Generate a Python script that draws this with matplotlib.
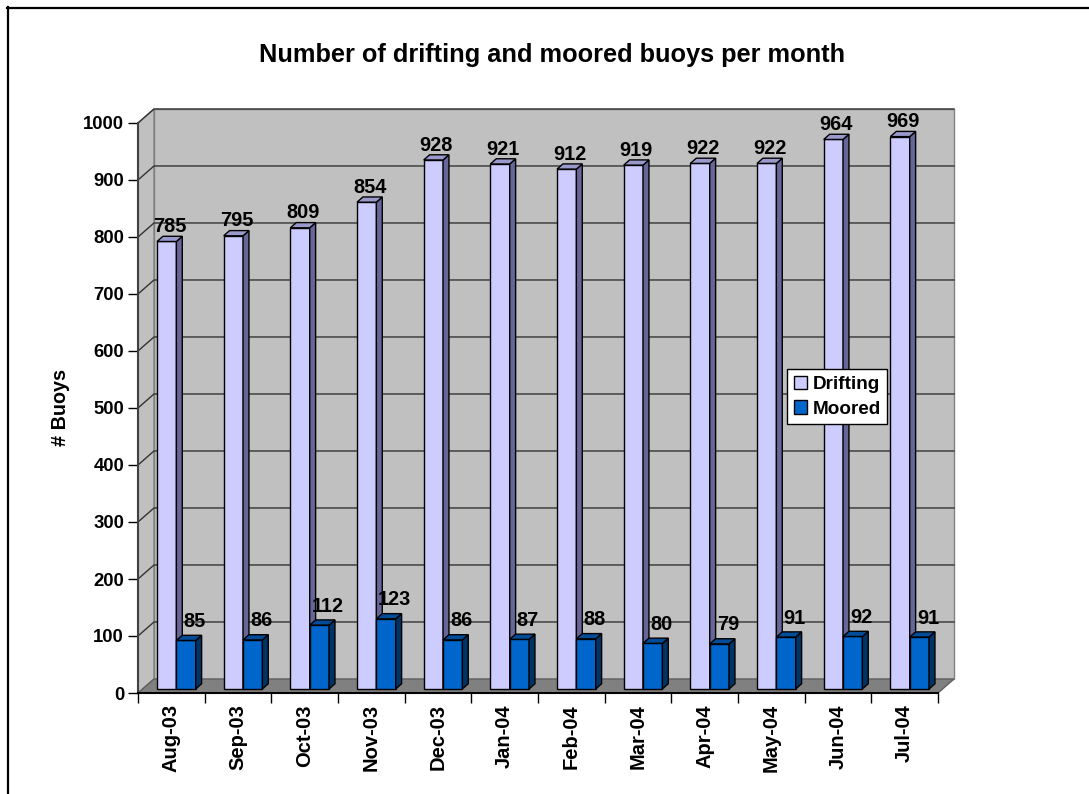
import numpy as np
import matplotlib
matplotlib.use("Agg")
import matplotlib.pyplot as plt
from matplotlib.patches import Polygon, Patch
from matplotlib.lines import Line2D

plt.rcParams['font.family'] = ['Liberation Sans', 'DejaVu Sans']
plt.rcParams['font.weight'] = 'bold'

months = ["Aug-03", "Sep-03", "Oct-03", "Nov-03", "Dec-03", "Jan-04",
          "Feb-04", "Mar-04", "Apr-04", "May-04", "Jun-04", "Jul-04"]
drifting = [785, 795, 809, 854, 928, 921, 912, 919, 922, 922, 964, 969]
moored = [85, 86, 112, 123, 86, 87, 88, 80, 79, 91, 92, 91]
yticks = list(range(0, 1001, 100))

# pseudo 3d depth (data units) and bar placement
n = len(months)
DX, DY = 0.24, 24.6
T0, T1 = 0.29, 0.66
W = 0.29
wall = '#C0C0C0'
grid_c = '#333333'

fig = plt.figure(figsize=(10.89, 7.94), dpi=100)
ax = fig.add_axes([138/1089, 101/794, 800/1089, 570/794])
ax.set_xlim(0, n)
ax.set_ylim(0, 1000)
ax.patch.set_visible(False)

# walls and floor
ax.add_patch(Polygon([(DX, DY), (n+DX, DY), (n+DX, 1000+DY), (DX, 1000+DY)],
                     closed=True, fc=wall, ec='#808080', lw=1, clip_on=False, zorder=0))
ax.add_patch(Polygon([(0, 0), (DX, DY), (DX, 1000+DY), (0, 1000)],
                     closed=True, fc=wall, ec='#808080', lw=1, clip_on=False, zorder=0))
ax.add_patch(Polygon([(0, 0), (n, 0), (n+DX, DY), (DX, DY)],
                     closed=True, fc='#808080', ec='#606060', lw=1, clip_on=False, zorder=0.5))
for v in yticks[1:]:
    ax.plot([0, DX, n+DX], [v, v+DY, v+DY], color=grid_c, lw=1, clip_on=False, zorder=0.2)


def bars3d(xs, vals, front, side, top):
    ax.bar(xs + T0*DX, vals, width=W, bottom=T0*DY, align='edge',
           color=front, edgecolor='black', lw=1, zorder=3, clip_on=False)
    for x, v in zip(xs, vals):
        xr = x + W
        ax.add_patch(Polygon([(xr+T0*DX, T0*DY), (xr+T1*DX, T1*DY),
                              (xr+T1*DX, v+T1*DY), (xr+T0*DX, v+T0*DY)],
                             closed=True, fc=side, ec='black', lw=1, zorder=3, clip_on=False))
        ax.add_patch(Polygon([(x+T0*DX, v+T0*DY), (xr+T0*DX, v+T0*DY),
                              (xr+T1*DX, v+T1*DY), (x+T1*DX, v+T1*DY)],
                             closed=True, fc=top, ec='black', lw=1, zorder=3, clip_on=False))


idx = np.arange(n)
xd = idx + 0.216
xm = xd + W
bars3d(xd, drifting, '#CCCCFF', '#666699', '#9999CC')
bars3d(xm, moored, '#0066CC', '#003366', '#004C99')

mid = (T0 + T1) / 2
for x, v in zip(xd, drifting):
    ax.annotate(str(v), (x + W/2 + mid*DX, v + T1*DY), xytext=(0, 3),
                textcoords='offset points', ha='center', va='baseline',
                fontsize=14.4, fontweight='bold', zorder=5, annotation_clip=False)
for x, v in zip(xm, moored):
    ax.annotate(str(v), (x + W/2 + mid*DX, v + T1*DY), xytext=(4, 6),
                textcoords='offset points', ha='center', va='baseline',
                fontsize=14.4, fontweight='bold', zorder=5, annotation_clip=False)

# axes
for s in ['top', 'right']:
    ax.spines[s].set_visible(False)
ax.spines['left'].set_color('#404040')
ax.spines['left'].set_linewidth(1.5)
ax.spines['bottom'].set_color('black')
ax.spines['bottom'].set_linewidth(1.5)
ax.spines['bottom'].set_zorder(4)
ax.set_yticks(yticks)
ax.tick_params(axis='y', direction='out', length=7, width=1, labelsize=13.3, pad=3)
ax.set_xticks(idx + 0.5)
ax.set_xticklabels(months, rotation=90, fontsize=14.5, fontweight='bold')
ax.set_xticks(np.arange(n + 1), minor=True)
ax.tick_params(axis='x', which='major', length=0, pad=8)
ax.tick_params(axis='x', which='minor', direction='out', length=7, width=1)
for lab in ax.get_yticklabels():
    lab.set_fontweight('bold')

fig.text(552/1089, 1 - 55/794, "Number of drifting and moored buoys per month",
         ha='center', va='center', fontsize=18.3, fontweight='bold')
fig.text(60/1089, 1 - 408/794, "# Buoys", rotation=90, ha='center', va='center',
         fontsize=14.2, fontweight='bold')

handles = [Patch(fc='#CCCCFF', ec='black', lw=1), Patch(fc='#0066CC', ec='black', lw=1)]
leg = fig.legend(handles, ["Drifting", "Moored"], loc='upper left',
                 bbox_to_anchor=(787/1089, 1 - 369/794), borderaxespad=0,
                 fancybox=False, shadow=False, framealpha=1, edgecolor='black',
                 prop={'size': 13.6, 'weight': 'bold'}, handlelength=0.7, handleheight=0.7,
                 handletextpad=0.3, labelspacing=0.4, borderpad=0.35)
leg.get_frame().set_linewidth(1)

# outer border (top and left visible)
fig.add_artist(Line2D([7/1089, 1], [1 - 7.5/794] * 2, color='black', lw=1.6,
                      transform=fig.transFigure))
fig.add_artist(Line2D([7.5/1089] * 2, [0, 1 - 7/794], color='black', lw=1.6,
                      transform=fig.transFigure))

fig.savefig('out.png', dpi=100)
